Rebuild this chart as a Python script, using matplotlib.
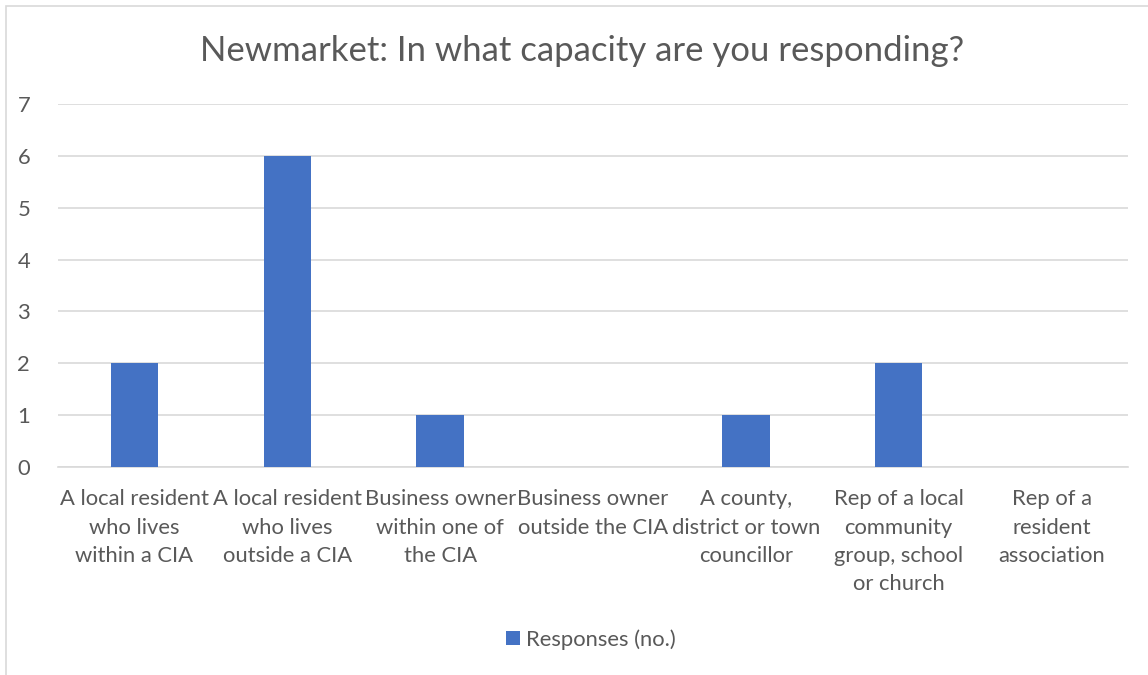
import matplotlib.pyplot as plt
import numpy as np
from matplotlib.patches import Rectangle

# categories i respostes
categories = [
    "A local resident\nwho lives\nwithin a CIA",
    "A local resident\nwho lives\noutside a CIA",
    "Business owner\nwithin one of\nthe CIA",
    "Business owner\noutside the CIA",
    "A county,\ndistrict or town\ncouncillor",
    "Rep of a local\ncommunity\ngroup, school\nor church",
    "Rep of a\nresident\nassociation",
]
responses = [2, 6, 1, 0, 1, 2, 0]
yticks = [0, 1, 2, 3, 4, 5, 6, 7]

gris = "#595959"
plt.rcParams['font.family'] = ['Lato', 'DejaVu Sans']

fig = plt.figure(figsize=(11.48, 6.75), dpi=100)
# marc del gràfic
fig.patches.append(Rectangle((6/1148, -0.01), 1.02, (675-6)/675 + 0.01, transform=fig.transFigure,
                             fill=False, edgecolor="#d9d9d9", linewidth=1.2))

ax = fig.add_axes([58/1148, (675-467)/675, (1128-58)/1148, (467-104)/675])
x = np.arange(len(categories))
ax.bar(x, responses, width=0.31, color="#4472C4", label="Responses (no.)", zorder=3)

ax.set_xlim(-0.5, len(categories) - 0.5)
ax.set_ylim(0, 7)
ax.set_yticks(yticks)
ax.yaxis.grid(True, color="#d9d9d9", linewidth=1.2, zorder=0)
ax.set_xticks(x)
ax.set_xticklabels(categories, fontsize=15.8, color=gris, linespacing=1.52, va="top")
ax.tick_params(axis="y", labelsize=15.8, labelcolor=gris, length=0, pad=20)
ax.tick_params(axis="x", length=0, pad=16)
for s in ["top", "right", "left"]:
    ax.spines[s].set_visible(False)
ax.spines["bottom"].set_color("#d9d9d9")
ax.spines["bottom"].set_linewidth(1.2)

fig.text(0.507, 0.924, "Newmarket: In what capacity are you responding?", ha="center", va="center",
         fontsize=25, color=gris)

fig.legend(loc="center", bbox_to_anchor=(0.515, 0.052), frameon=False, fontsize=15.8,
           labelcolor=gris, handlelength=0.6, handleheight=0.6, handletextpad=0.3)

fig.savefig("out.png", dpi=100)
